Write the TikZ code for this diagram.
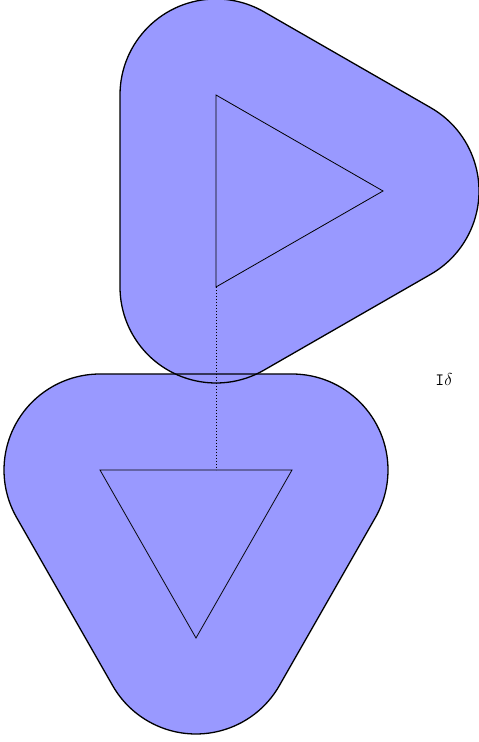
\documentclass[tikz,border=0pt]{standalone}
\usepackage{amsmath,amssymb}
\usepackage{xcolor}
\usepackage{tikz}
\usetikzlibrary{calc}
\definecolor{blobblue}{RGB}{153,153,255}
\tikzset{
  blobfill/.style={fill=blobblue,draw=none},
  blobline/.style={draw=black,line width=1.3pt,line join=round},
  tri/.style={draw=black,line width=0.8pt},
  link/.style={draw=black,line width=1pt,dotted},
}
\begin{document}
\begin{tikzpicture}[x=1pt,y=1pt]
\useasboundingbox (0,0) rectangle (479,742);
% triangle pointing right
\coordinate (ta) at (216,647); \coordinate (tb) at (383,551); \coordinate (tc) at (216,455);
% triangle pointing down
\coordinate (bd) at (100,272); \coordinate (be) at (292,272); \coordinate (bf) at (196,104);
\coordinate (hit) at (216,272);
\def\rr{96}
\def\toppath{($(ta)+(60.1:\rr)$) -- ($(tb)+(60.1:\rr)$) arc[start angle=60.1,end angle=-60.1,radius=\rr] -- ($(tc)+(-60.1:\rr)$) arc[start angle=-60.1,end angle=-180,radius=\rr] -- ($(ta)+(180:\rr)$) arc[start angle=180,end angle=60.1,radius=\rr] -- cycle}
\def\botpath{($(bd)+(90:\rr)$) -- ($(be)+(90:\rr)$) arc[start angle=90,end angle=-29.7,radius=\rr] -- ($(bf)+(-29.7:\rr)$) arc[start angle=-29.7,end angle=-150.3,radius=\rr] -- ($(bd)+(209.7:\rr)$) arc[start angle=209.7,end angle=90,radius=\rr] -- cycle}
\path[blobfill] \toppath;
\path[blobfill] \botpath;
\path[blobline] \toppath;
\path[blobline] \botpath;
\draw[tri] (ta) -- (tb) -- (tc) -- cycle;
\draw[tri] (bd) -- (be) -- (bf) -- cycle;
\draw[link] (tc) -- (hit);
\node[font=\LARGE,inner sep=0pt] (lbl) at (444,362) {\texttt{I}$\delta$};
\end{tikzpicture}
\end{document}
